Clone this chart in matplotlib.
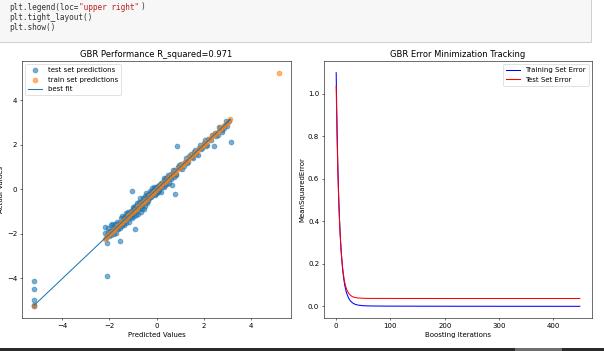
import numpy as np
import matplotlib
matplotlib.use("Agg")
from matplotlib import pyplot as plt
from matplotlib.patches import Rectangle

# test set: predicted vs actual
test_pred = [-5.2, -5.2, -5.2, -5.2, -5.2,
             -2.15, -2.1, -2.1, -2.2, -2.05, -2.0, -1.95, -1.9, -1.85, -1.8,
             -1.75, -1.7, -1.65, -1.6, -1.56, -1.55, -1.5, -1.5, -1.45, -1.4,
             -1.4, -1.35, -1.3, -1.3, -1.25, -1.2, -1.2, -1.15, -1.1, -1.1,
             -1.06, -1.05, -1.0, -1.0, -0.95, -0.95, -0.9, -0.9, -0.9, -0.85,
             -0.85, -0.8, -0.8, -0.75, -0.75, -0.7, -0.7, -0.65, -0.65, -0.6,
             -0.6, -0.55, -0.55, -0.5, -0.5, -0.45, -0.45, -0.4, -0.4, -0.35,
             -0.35, -0.3, -0.3, -0.25, -0.25, -0.2, -0.2, -0.15, -0.15, -0.1,
             -0.1, -0.05, -0.05, 0.0, 0.0, 0.05, 0.05, 0.1, 0.1, 0.15,
             0.2, 0.2, 0.25, 0.3, 0.3, 0.35, 0.4, 0.45, 0.5, 0.55,
             0.6, 0.65, 0.67, 0.7, 0.78, 0.8, 0.85, 0.89, 0.9, 1.0,
             1.05, 1.1, 1.2, 1.3, 1.4, 1.5, 1.6, 1.7, 1.8, 1.9,
             2.0, 2.1, 2.2, 2.3, 2.43, 2.5, 2.6, 2.7, 2.77, 2.8,
             2.9, 3.0, 3.1, 3.15,
             -2.2, -2.12, -2.05, -1.98, -1.92, -1.88, -1.82, -1.78, -1.72, -1.68,
             -1.62, -1.58, -1.52, -1.48, -1.42, -1.38, -1.32, -1.28, -1.22, -1.18,
             -1.12, -1.08, -1.02, -0.98, -0.92, -0.88, -0.82, -0.78, -0.72, -0.68,
             -0.62, -0.58, -0.52, -0.48, -0.42, -0.38, -0.32, -0.28, -0.22, -0.18,
             -0.12, -0.08, -0.02, 0.02, 0.08, 0.12, 0.18, 0.22, 0.28, 0.32,
             0.38, 0.42, 0.48, 0.52, 0.58, 0.62, 0.72, 0.75, 0.82, 0.95,
             1.15, 1.25, 1.35, 1.45, 1.55, 1.65, 1.75, 1.85, 1.95, 2.05,
             2.15, 2.35, 2.55, 2.65, 2.85, 2.95]
test_actual = [-4.1, -4.45, -4.95, -5.2, -5.25,
               -2.2, -2.39, -3.87, -1.7, -1.75, -2.1, -1.6, -1.85, -1.7, -2.0,
               -1.55, -1.8, -1.65, -1.5, -2.31, -1.75, -1.45, -1.3, -1.6, -1.25,
               -1.5, -1.35, -1.2, -1.5, -1.1, -1.35, -1.0, -1.2, -1.15, -0.95,
               -0.07, -1.3, -0.9, -1.1, -0.85, -1.2, -1.79, -0.75, -1.0, -0.95,
               -0.6, -0.8, -1.1, -0.7, -0.55, -0.85, -0.4, -0.65, -1.0, -0.5,
               -0.75, -0.45, -0.9, -0.6, -0.3, -0.5, -0.15, -0.35, -0.6, -0.25,
               -0.45, -0.2, -0.4, -0.1, -0.3, -0.25, 0.05, -0.15, -0.05, -0.1,
               0.1, -0.2, 0.0, 0.05, -0.15, 0.1, -0.05, 0.0, 0.2, 0.15,
               0.25, -0.1, 0.3, 0.1, 0.4, 0.35, 0.5, 0.25, 0.55, 0.45,
               0.7, 0.6, 0.2, 0.75, -0.2, 0.85, 0.7, 1.95, 1.0, 0.95,
               1.15, 0.9, 1.25, 1.2, 1.5, 1.45, 1.7, 1.6, 1.85, 1.8,
               2.1, 1.95, 2.25, 2.2, 1.95, 2.55, 2.45, 2.75, 2.58, 2.65,
               2.9, 2.85, 3.05, 2.12,
               -1.95, -2.05, -1.9, -1.85, -2.05, -1.55, -1.8, -1.6, -1.95, -1.45,
               -1.8, -1.55, -1.65, -1.2, -1.4, -1.6, -1.3, -1.05, -1.25, -1.45,
               -1.0, -1.25, -0.8, -1.0, -0.95, -1.15, -0.7, -0.9, -0.6, -0.75,
               -0.9, -0.4, -0.55, -0.75, -0.25, -0.5, -0.35, -0.05, -0.35, -0.1,
               0.0, -0.25, 0.1, -0.1, 0.15, -0.05, 0.3, 0.1, 0.25, 0.5,
               0.2, 0.45, 0.65, 0.3, 0.6, 0.45, 0.85, 0.55, 0.65, 1.1,
               1.05, 1.4, 1.25, 1.6, 1.4, 1.75, 1.55, 2.0, 1.85, 2.2,
               2.0, 2.45, 2.4, 2.8, 2.75, 3.05]

# train set: predicted vs actual
train_pred = [-5.2, -2.2, -2.12, -2.05, -1.97, -1.9, -1.82, -1.75, -1.67, -1.6,
              -1.52, -1.45, -1.37, -1.3, -1.22, -1.15, -1.07, -1.0, -0.92, -0.85,
              -0.77, -0.7, -0.62, -0.55, -0.47, -0.4, -0.32, -0.25, -0.17, -0.1,
              -0.02, 0.05, 0.13, 0.2, 0.28, 0.35, 0.43, 0.5, 0.58, 0.65,
              0.73, 0.8, 0.88, 0.95, 1.03, 1.1, 1.18, 1.25, 1.33, 1.4,
              1.48, 1.55, 1.63, 1.7, 1.78, 1.85, 1.93, 2.0, 2.08, 2.15,
              2.23, 2.3, 2.38, 2.45, 2.53, 2.6, 2.68, 2.75, 2.83, 2.9,
              2.98, 3.05, 3.12, 5.2]
train_actual = [-5.22, -2.21, -2.11, -2.06, -1.96, -1.91, -1.81, -1.76, -1.66, -1.61,
                -1.51, -1.46, -1.36, -1.31, -1.21, -1.16, -1.06, -1.01, -0.91, -0.86,
                -0.76, -0.71, -0.61, -0.56, -0.46, -0.41, -0.31, -0.26, -0.16, -0.11,
                -0.01, 0.04, 0.14, 0.19, 0.29, 0.34, 0.44, 0.49, 0.59, 0.64,
                0.74, 0.79, 0.89, 0.94, 1.04, 1.09, 1.19, 1.24, 1.34, 1.39,
                1.49, 1.54, 1.64, 1.69, 1.79, 1.84, 1.94, 1.99, 2.09, 2.14,
                2.24, 2.29, 2.39, 2.44, 2.54, 2.59, 2.69, 2.74, 2.84, 2.89,
                2.99, 3.04, 3.15, 5.24]

# boosting error curves
iters = [0, 1, 2, 3, 4, 5, 6, 7, 8, 9, 10, 12, 14, 16, 18, 20, 23, 26, 30, 35,
         40, 50, 60, 80, 100, 150, 200, 300, 449]
train_err = [1.10, 0.93, 0.79, 0.67, 0.575, 0.49, 0.42, 0.36, 0.31, 0.265,
             0.23, 0.17, 0.128, 0.097, 0.074, 0.057, 0.039, 0.027, 0.017, 0.010,
             0.0065, 0.0035, 0.0025, 0.0019, 0.0016, 0.0013, 0.0011, 0.0009, 0.0007]
test_err = [1.037, 0.88, 0.75, 0.64, 0.55, 0.47, 0.41, 0.355, 0.31, 0.27,
            0.235, 0.18, 0.14, 0.11, 0.09, 0.076, 0.062, 0.053, 0.046, 0.042,
            0.040, 0.0385, 0.038, 0.0378, 0.0377, 0.0376, 0.0375, 0.0375, 0.0375]

code_lines = ['plt.legend(loc=', 'plt.tight_layout()', 'plt.show()']

W, H = 604, 351
DPI = 50  # the notebook image is shown scaled down
fig = plt.figure(figsize=(W / DPI, H / DPI), dpi=DPI)

# notebook code cell above the plot
fig.patches.append(Rectangle((-0.01, 1 - 42 / H), 597 / W, 43 / H, transform=fig.transFigure,
                             facecolor='#f7f7f7', edgecolor='#cfcfcf', lw=1.4))
code_fs = 7.8 * 72 / DPI
cw = 0.602 * 7.8
ys = [7, 17.5, 28]
fig.text(9 / W, 1 - ys[0] / H, code_lines[0], family='DejaVu Sans Mono', fontsize=code_fs,
         color='#333333', va='center')
fig.text((9 + 15 * cw) / W, 1 - ys[0] / H, '"upper right"', family='DejaVu Sans Mono',
         fontsize=code_fs, color='#ba2121', va='center')
fig.text((9 + 28 * cw) / W, 1 - ys[0] / H, ')', family='DejaVu Sans Mono', fontsize=code_fs,
         color='#333333', va='center')
for line, y in zip(code_lines[1:], ys[1:]):
    fig.text(9 / W, 1 - y / H, line, family='DejaVu Sans Mono', fontsize=code_fs,
             color='#333333', va='center')

# dark bar at the bottom
fig.patches.append(Rectangle((0, 0), 1, 3.5 / H, transform=fig.transFigure,
                             facecolor='#2b2b2b', edgecolor='none'))
fig.patches.append(Rectangle((515 / W, 0), 47 / W, 3.5 / H, transform=fig.transFigure,
                             facecolor='#6e6e6e', edgecolor='none'))

ax1 = fig.add_axes([22 / W, 1 - 318 / H, 269 / W, 257 / H])
ax1.scatter(test_pred, test_actual, s=50, alpha=0.6, label='test set predictions')
ax1.scatter(train_pred, train_actual, s=50, alpha=0.6, label='train set predictions')
ax1.plot(test_pred, test_pred, label='best fit')
ax1.set_title('GBR Performance R_squared=0.971')
ax1.set_xlabel('Predicted Values')
ax1.set_ylabel('Actual Values')
ax1.legend(loc='upper left')

ax2 = fig.add_axes([324 / W, 1 - 318 / H, 268 / W, 257 / H])
ax2.plot(iters, train_err, 'b-', label='Training Set Error')
ax2.plot(iters, test_err, 'r-', label='Test Set Error')
ax2.set_title('GBR Error Minimization Tracking')
ax2.set_xlabel('Boosting Iterations')
ax2.set_ylabel('MeanSquaredError')
ax2.legend(loc='upper right')

fig.savefig('out.png', dpi=DPI)
